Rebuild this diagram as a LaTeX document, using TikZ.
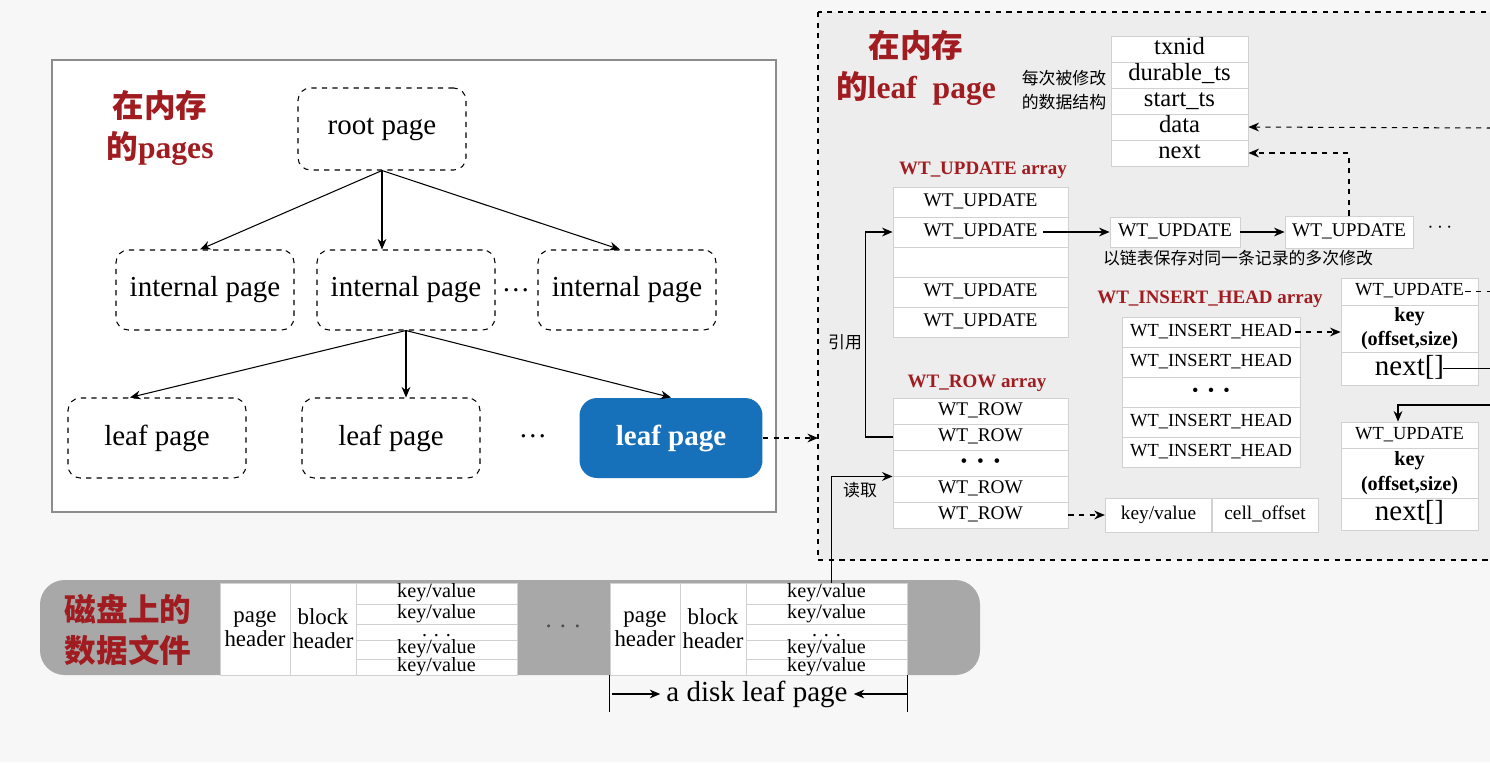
\documentclass[tikz,border=0pt]{standalone}
\usepackage{fontspec}
\setmainfont{Liberation Serif}
\newfontfamily\cjk{Noto Sans CJK SC}
\usetikzlibrary{arrows.meta}

\definecolor{titlered}{RGB}{160,28,32}
\definecolor{leafblue}{RGB}{22,112,186}
\definecolor{panelgray}{RGB}{237,237,237}
\definecolor{diskgray}{RGB}{168,168,168}
\newcommand{\fsz}[1]{\fontsize{#1}{#1}\selectfont}

\begin{document}
\begin{tikzpicture}[
    x=0.02cm, y=-0.02cm,
    pagebox/.style={draw, dashed, rounded corners=7pt, fill=white, line width=0.6pt,
        minimum width=3.56cm, minimum height=1.6cm, font=\fsz{16.5}},
    arr/.style={-{Stealth[length=6pt,width=5pt]}, line width=0.6pt},
    darr/.style={arr, dashed},
    redtitle/.style={text=titlered, font=\bfseries\fontsize{18}{23}\selectfont, align=center},
    arrtitle/.style={text=titlered, font=\bfseries\fsz{10.8}},
    note/.style={font=\cjk\fontsize{9.6}{13.5}\selectfont, align=left},
    cellbox/.style={draw=black!18, fill=white, inner sep=0pt, line width=0.5pt},
    strow/.style={cellbox, minimum width=2.74cm, minimum height=0.52cm, font=\fsz{14},
        text height=9pt, text depth=3pt},
    uprow/.style={cellbox, minimum width=3.5cm, minimum height=0.6cm, font=\fsz{11},
        text height=7.5pt, text depth=2.5pt},
    rowrow/.style={uprow, minimum height=0.52cm},
    headrow/.style={uprow, minimum width=3.56cm, font=\fsz{10.5}},
    upbox/.style={uprow, minimum width=2.6cm},
    kvbox/.style={uprow, minimum width=2.13cm, minimum height=0.68cm},
    recrow/.style={cellbox, minimum width=2.74cm, font=\fsz{10.5}, text height=7.5pt, text depth=2.5pt},
    recnext/.style={recrow, font=\fsz{16.5}, text height=11pt, text depth=3.5pt},
    reckey/.style={cellbox, minimum width=2.74cm, font=\bfseries\fontsize{11.5}{14}\selectfont, align=center},
    diskhead/.style={cellbox, minimum height=1.84cm, font=\fontsize{13}{13.6}\selectfont, align=center},
    diskkv/.style={cellbox, minimum width=3.22cm, font=\fsz{11.5}, text height=5pt, text depth=0pt}
]
\useasboundingbox (0,0) rectangle (1490,762);
\clip (0,0) rectangle (1490,762);
\fill[black!3] (0,0) rectangle (1490,762);

% in-memory B-tree pages
\draw[black!45, fill=white, line width=0.8pt] (52,60) rectangle (776,512);
\node[redtitle] (memtitle) at (160,128) {{\cjk 在内存}\\{\cjk 的}pages};

\node[pagebox, minimum width=3.36cm, minimum height=1.64cm] (root) at (382,129) {root page};
\node[pagebox] (int1) at (205,290) {internal page};
\node[pagebox] (int2) at (406,290) {internal page};
\node[pagebox] (int3) at (627,290) {internal page};
\node[font=\fsz{16}] (treedots1) at (516,290) {\ldots};
\node[pagebox] (leaf1) at (157,438) {leaf page};
\node[pagebox] (leaf2) at (391,438) {leaf page};
\node[font=\fsz{16}] (treedots2) at (533,436) {\ldots};
\node[pagebox, solid, draw=none, fill=leafblue, text=white, font=\bfseries\fsz{16.5},
    rounded corners=10pt, minimum width=3.66cm] (leafb) at (671,438) {leaf page};

\draw[arr] (root.south) -- ([xshift=-0.1cm]int1.north);
\draw[arr] (root.south) -- (root.south |- int2.north);
\draw[arr] (root.south) -- ([xshift=-0.14cm]int3.north);
\draw[arr] (int2.south) -- ([xshift=-0.54cm]leaf1.north);
\draw[arr] (int2.south) -- (int2.south |- leaf2.north);
\draw[arr] (int2.south) -- (leafb.north);

% in-memory leaf page
\draw[dashed, line width=0.7pt, fill=panelgray] (818,12) rectangle (1500,560);
\coordinate (panelW) at (818,438);
\draw[darr] (leafb.east) -- (panelW);
\node[redtitle] (leaftitle) at (916,68) {{\cjk 在内存}\\{\cjk 的}leaf~ page};

\node[note] (chgnote) at (1064,90) {每次被修改\\的数据结构};
\foreach \i/\y/\t in {1/49/txnid, 2/75/durable\_ts, 3/101/start\_ts, 4/127/data, 5/153/next}
    \node[strow] (s\i) at (1179.5,\y) {\t};

\node[arrtitle] (uatitle) at (983,170) {WT\_UPDATE array};
\foreach \i/\y/\t in {1/202/WT\_UPDATE, 2/232/WT\_UPDATE, 3/262/{}, 4/292/WT\_UPDATE, 5/322/WT\_UPDATE}
    \node[uprow] (ua\i) at (980.5,\y) {\t};

\node[upbox] (lu1) at (1175,232) {WT\_UPDATE};
\node[upbox, minimum width=2.56cm, minimum height=0.64cm] (lu2) at (1349,232) {WT\_UPDATE};
\node[font=\fsz{12}] (ludots) at (1440,228) {$\cdots$};
\node[note] (chain) at (1238,258) {以链表保存对同一条记录的多次修改};
\draw[arr] ([xshift=-0.5cm]ua2.east) -- (lu1.west);
\draw[arr] (lu1.east) -- (lu2.west);
\draw[darr] (lu2.north) |- (s5.east);
\coordinate (edge1) at (1492,128);
\draw[darr] (edge1) -- (s4.east);

\node[arrtitle] (wrtitle) at (977,383) {WT\_ROW array};
\foreach \i/\y/\t in {1/411/WT\_ROW, 2/437/WT\_ROW, 3/463/\textbullet\ \ \textbullet\ \ \textbullet, 4/489/WT\_ROW, 5/515/WT\_ROW}
    \node[rowrow] (wr\i) at (980.5,\y) {\t};

\node[note] (refer) at (845,342) {引用};
\draw[arr] (wr2.west) -- ++(-27,0) |- (ua2.west);

\node[kvbox] (kv) at (1158.5,515) {key/value};
\node[kvbox, minimum width=2.12cm] (celloff) at (1265,515) {cell\_offset};
\draw[darr] (wr5.east) -- (kv.west);

\node[arrtitle] (ihtitle) at (1210,299) {WT\_INSERT\_HEAD array};
\foreach \i/\y/\t in {1/332/WT\_INSERT\_HEAD, 2/362/WT\_INSERT\_HEAD, 3/392/\textbullet\ \ \textbullet\ \ \textbullet, 4/422/WT\_INSERT\_HEAD, 5/452/WT\_INSERT\_HEAD}
    \node[headrow] (ih\i) at (1211,\y) {\t};

% insert list entries
\node[recrow, minimum height=0.54cm] (au) at (1409.5,291.5) {WT\_UPDATE};
\node[reckey, minimum height=0.94cm] (ak) at (1409.5,328.5) {key\\(offset,size)};
\node[recnext, minimum height=0.66cm] (an) at (1409.5,368.5) {next[]};
\node[recrow, minimum height=0.52cm] (bu) at (1409.5,435) {WT\_UPDATE};
\node[reckey, minimum height=1.0cm] (bk) at (1409.5,473) {key\\(offset,size)};
\node[recnext, minimum height=0.64cm] (bn) at (1409.5,514) {next[]};

\draw[darr] ([xshift=-0.1cm]ih1.east) -- (ih1.east -| ak.west);
\coordinate (edge2) at (1492,292);
\coordinate (edge3) at (1492,370);
\coordinate (edge4) at (1492,405);
\draw[dashed, line width=0.6pt] ([xshift=-0.26cm]au.east) -- (au.east -| edge2);
\draw[line width=0.6pt] ([xshift=-0.7cm]an.east) -- (an.east -| edge3);
\draw[arr] (edge4) -| ([xshift=-0.23cm]bu.north);

% data file on disk
\fill[diskgray, rounded corners=14pt] (40,580) rectangle (980,675);
\node[redtitle, font=\cjk\bfseries\fontsize{18}{23}\selectfont] (disktitle) at (128,630) {磁盘上的\\数据文件};
\foreach \p/\ox in {1/0, 2/390} {
    \node[diskhead, minimum width=1.4cm] (ph\p) at (255+\ox,629) {page\\header};
    \node[diskhead, minimum width=1.32cm] (bh\p) at (323+\ox,629) {block\\header};
    \foreach \r/\y/\h/\t in {1/593.5/0.42cm/{key/value}, 2/614/0.40cm/{key/value}, 3/632/0.32cm/{. . .}, 4/649.5/0.38cm/{key/value}, 5/667/0.32cm/{key/value}}
        \node[diskkv, minimum height=\h] (d\p kv\r) at (436.5+\ox,\y) {\t};
}
\node[font=\fsz{14}, text=black!70] (diskdots) at (563,626) {. . .};

\draw[arr] ([xshift=0.1cm]d2kv1.north) |- (wr3.south west);
\node[note] (read) at (860,490) {读取};

\node[font=\fsz{16.5}] (dlp) at (757,694) {a disk leaf page};
\draw[line width=0.6pt] (ph2.south west) -- ++(0,37);
\draw[line width=0.6pt] (d2kv5.south east) -- ++(0,37);
\coordinate (dlL) at (612,694);
\coordinate (dlR) at (908,694);
\draw[arr] (dlL) -- (dlp.west);
\draw[arr] (dlR) -- (dlp.east);

\end{tikzpicture}
\end{document}
